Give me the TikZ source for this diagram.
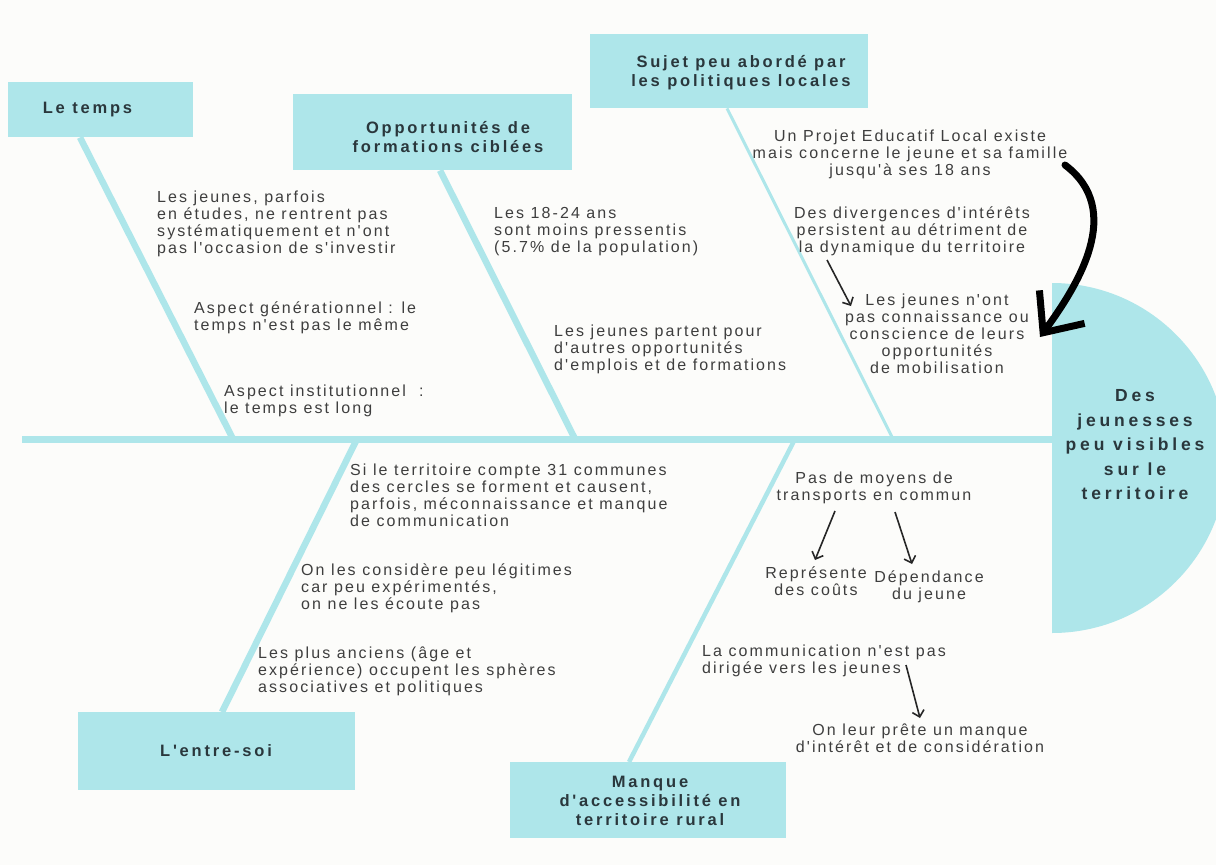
\documentclass[tikz,border=0pt]{standalone}
\usepackage{fontspec}
\setmainfont{Liberation Sans}
\newfontfamily\bodyfont[LetterSpace=13]{Liberation Sans}
\newfontfamily\titlefont[LetterSpace=17]{Liberation Sans Bold}
\newfontfamily\discfont[LetterSpace=22]{Liberation Sans Bold}
\usetikzlibrary{arrows.meta}
\definecolor{bg}{HTML}{FCFCFA}
\definecolor{aqua}{HTML}{AEE6EA}
\definecolor{txt}{HTML}{3E3E3E}
\definecolor{ttl}{HTML}{2A373C}
\begin{document}
\begin{tikzpicture}[x=1pt,y=-1pt,
  body/.style={font=\bodyfont\fontsize{16}{17}\selectfont, text=txt, inner sep=0pt, align=left},
  bodyc/.style={body, align=center},
  box/.style={fill=aqua, draw=none, inner sep=0pt, anchor=north west},
  title/.style={font=\titlefont\fontsize{16.5}{19}\selectfont, text=ttl, inner sep=0pt, align=center},
  disctext/.style={font=\discfont\fontsize{17.5}{24.5}\selectfont, text=ttl, inner sep=0pt, align=center},
  bone/.style={draw=aqua, line width=6.5pt},
  thinbone/.style={draw=aqua, line width=3pt},
  note/.style={draw=black!85, line width=1.6pt, -{Straight Barb[length=6pt,width=12pt]}},
  bigarrow/.style={draw=black, line width=7pt, line cap=round, -{Straight Barb[length=32pt,width=56pt,line width=7pt]}}
]
\path[use as bounding box, fill=bg] (0,0) rectangle (1216,865);

% effect (half disc)
\begin{scope}
  \clip (1052,0) rectangle (1216,865);
  \fill[aqua] (1052,458) circle[radius=175pt];
\end{scope}
\node[disctext] (effect) at (1135,445) {Des\\jeunesses\\peu visibles\\sur le\\territoire};

% category boxes
\node[box, minimum width=185pt, minimum height=55pt] (tempsbox) at (8,82) {};
\node[box, minimum width=279pt, minimum height=76pt] (oppbox) at (293,94) {};
\node[box, minimum width=278pt, minimum height=74pt] (sujetbox) at (590,34) {};
\node[box, minimum width=277pt, minimum height=78pt] (entrebox) at (78,712) {};
\node[box, minimum width=276pt, minimum height=76pt] (manquebox) at (510,762) {};

\node[title] (tempst) at (87.5,110) {Le temps};
\node[title] (oppt) at (448,137) {Opportunités de\\formations ciblées};
\node[title] (sujett) at (741,73) {Sujet peu abordé par\\les politiques locales};
\node[title] (entret) at (216,751) {L'entre-soi};
\node[title] (manquet) at (650,801) {Manque\\d'accessibilité en\\territoire rural};

% spine and bones
\coordinate (tail) at (22,439);
\coordinate (head) at (1052,439);
\coordinate (s1) at (233,439);
\coordinate (s2) at (575,439);
\coordinate (s3) at (893,439);
\coordinate (s4) at (357,439);
\coordinate (s5) at (795,439);
\draw[bone] ([xshift=72pt]tempsbox.south west) -- (s1);
\draw[bone] ([xshift=147pt]oppbox.south west) -- (s2);
\draw[thinbone] ([xshift=137pt]sujetbox.south west) -- (s3);
\draw[bone] ([xshift=144pt]entrebox.north west) -- (s4);
\draw[bone, line width=4.5pt] ([xshift=119pt]manquebox.north west) -- (s5);
\draw[aqua, line width=7pt] (tail) -- (head);

% causes: Le temps
\node[body, anchor=north west] (t1) at (157,191) {Les jeunes, parfois\\en études, ne rentrent pas\\systématiquement et n'ont\\pas l'occasion de s'investir};
\node[body, anchor=north west] (t2) at (194,302) {Aspect générationnel : le\\temps n'est pas le même};
\node[body, anchor=north west] (t3) at (224,385) {Aspect institutionnel\ \ :\\le temps est long};

% causes: Opportunités
\node[body, anchor=north west] (o1) at (494,207) {Les 18-24 ans\\sont moins pressentis\\(5.7\% de la population)};
\node[body, anchor=north west] (o2) at (554,325) {Les jeunes partent pour\\d'autres opportunités\\d'emplois et de formations};

% causes: Sujet
\node[bodyc, anchor=north] (p1) at (910,130) {Un Projet Educatif Local existe\\mais concerne le jeune et sa famille\\jusqu'à ses 18 ans};
\node[bodyc, anchor=north] (p2) at (912,207) {Des divergences d'intérêts\\persistent au détriment de\\la dynamique du territoire};
\node[bodyc, anchor=north] (p3) at (937,294) {Les jeunes n'ont\\pas connaissance ou\\conscience de leurs\\opportunités\\de mobilisation};

% causes: L'entre-soi
\node[body, anchor=north west] (e1) at (350,464) {Si le territoire compte 31 communes\\des cercles se forment et causent,\\parfois, méconnaissance et manque\\de communication};
\node[body, anchor=north west] (e2) at (301,564) {On les considère peu légitimes\\car peu expérimentés,\\on ne les écoute pas};
\node[body, anchor=north west] (e3) at (258,647) {Les plus anciens (âge et\\expérience) occupent les sphères\\associatives et politiques};

% causes: Manque d'accessibilité
\node[bodyc, anchor=north] (m1) at (874,472) {Pas de moyens de\\transports en commun};
\node[bodyc, anchor=north] (m2) at (816,567) {Représente\\des coûts};
\node[bodyc, anchor=north] (m3) at (929,571) {Dépendance\\du jeune};
\node[body, anchor=north west] (m4) at (702,645) {La communication n'est pas\\dirigée vers les jeunes};
\node[bodyc, anchor=north] (m5) at (920,724) {On leur prête un manque\\d'intérêt et de considération};

% small arrows
\coordinate (a1s) at (827,260); \coordinate (a1e) at (851,306);
\coordinate (a2s) at (835,511); \coordinate (a2e) at (815,560);
\coordinate (a3s) at (895,512); \coordinate (a3e) at (912,564);
\coordinate (a4s) at (906,665); \coordinate (a4e) at (920,718);
\draw[note] (a1s) -- (a1e);
\draw[note] (a2s) -- (a2e);
\draw[note] (a3s) -- (a3e);
\draw[note] (a4s) -- (a4e);

% big curved arrow
\coordinate (bs) at (1065,165);
\coordinate (be) at (1040,337);
\draw[bigarrow] (bs) .. controls (1125,210) and (1078,285) .. (be);
\end{tikzpicture}
\end{document}
